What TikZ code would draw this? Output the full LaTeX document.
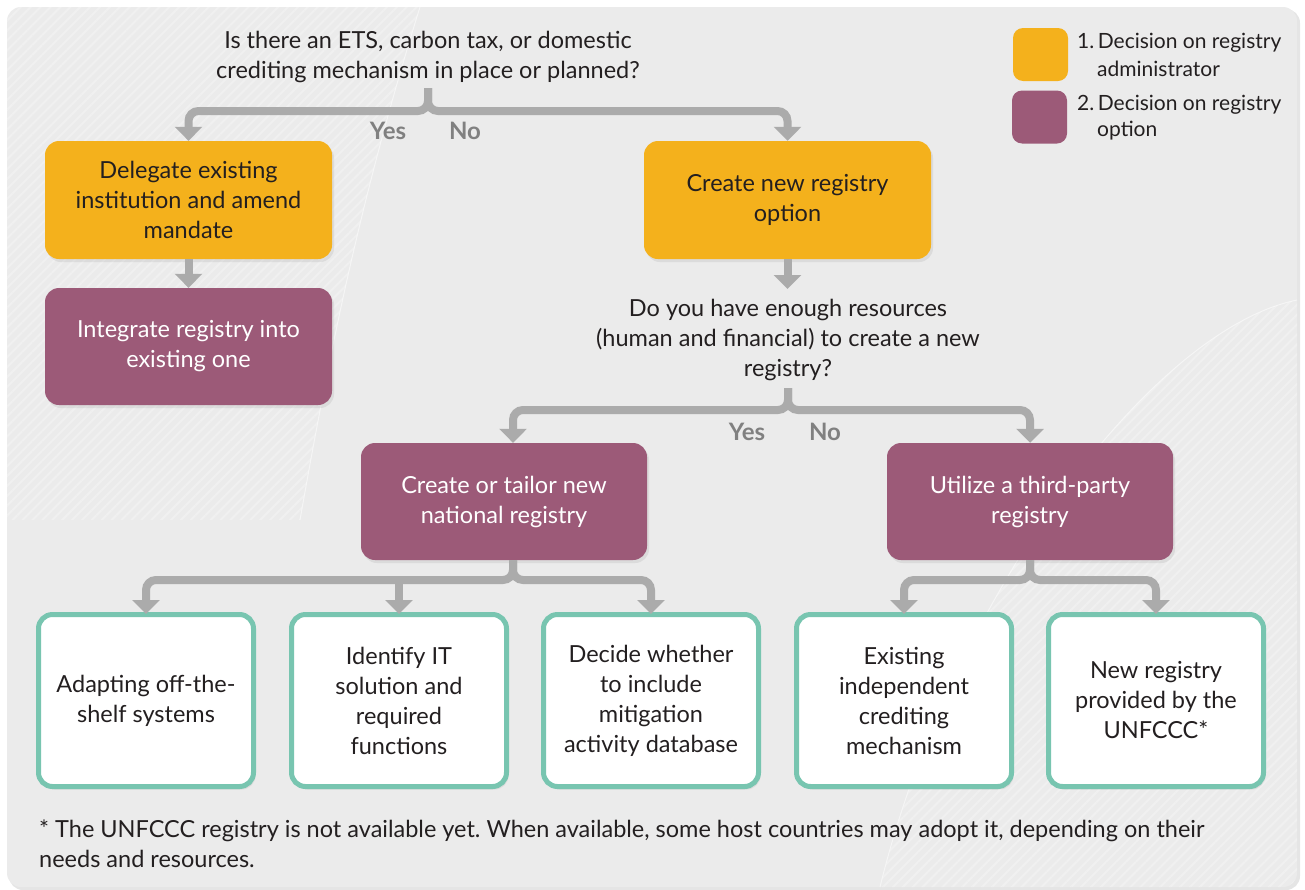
\documentclass[tikz,border=0pt]{standalone}
\usepackage{fontspec}
\setmainfont{Lato}
\usetikzlibrary{arrows.meta,shadows,patterns.meta}
\frenchspacing
\definecolor{bgc}{HTML}{EBEBEB}
\definecolor{orangec}{HTML}{F4B11C}
\definecolor{purplec}{HTML}{9C5A78}
\definecolor{tealc}{HTML}{78C5B0}
\definecolor{connc}{HTML}{ABABAB}
\definecolor{ync}{HTML}{808080}
\definecolor{txt}{HTML}{231F20}
\tikzset{
  box/.style={rounded corners=14pt, minimum width=287pt, minimum height=118pt, align=center,
    font=\fontsize{23.5}{30}\selectfont, inner sep=4pt,
    drop shadow={opacity=0.15, shadow xshift=2pt, shadow yshift=-3pt}},
  obox/.style={box, fill=orangec, text=txt},
  pbox/.style={box, fill=purplec, text=white},
  tbox/.style={box, fill=white, draw=tealc, line width=5pt, text=txt,
    minimum width=215pt, minimum height=172pt},
  conn/.style={draw=connc, line width=8pt, rounded corners=10pt,
    -{Triangle[width=27pt,length=14pt]}},
  qtext/.style={align=center, font=\fontsize{23.5}{30}\selectfont, text=txt, inner sep=3pt},
  yn/.style={font=\fontsize{24}{24}\selectfont\bfseries, text=ync, inner sep=0pt},
  legtext/.style={anchor=west, font=\fontsize{21}{24}\selectfont, text=txt, inner sep=0pt},
  legbox/.style={rounded corners=10pt, minimum width=55pt, minimum height=53pt}
}
\begin{document}
\begin{tikzpicture}[x=1pt,y=-1pt]
\useasboundingbox (0,0) rectangle (1305,889);
% background
\fill[black!10, rounded corners=14pt] (9,9) rectangle (1300,890);
\fill[bgc, rounded corners=14pt] (7,7) rectangle (1297,887);
\begin{scope}
  \clip[rounded corners=14pt] (7,7) rectangle (1297,887);
  \clip (7,7) -- (420,7) .. controls (360,200) and (330,350) .. (300,520) -- (7,520) -- cycle;
  \fill[pattern={Lines[angle=45,distance=7pt,line width=2pt]}, pattern color=white!25!bgc] (0,0) rectangle (1305,889);
\end{scope}
\begin{scope}
  \clip[rounded corners=14pt] (7,7) rectangle (1297,887);
  \clip (1297,300) .. controls (1150,330) and (950,600) .. (880,889) -- (1305,889) -- (1305,300) -- cycle;
  \fill[pattern={Lines[angle=45,distance=7pt,line width=2pt]}, pattern color=white!25!bgc] (0,0) rectangle (1305,889);
\end{scope}
\draw[white, opacity=0.5, line width=1pt] (420,7) .. controls (360,200) and (330,350) .. (300,520);
\draw[white, opacity=0.5, line width=1pt] (1297,300) .. controls (1150,330) and (950,600) .. (880,887);

% legend
\node[legbox, fill=orangec] (lg1) at (1040.5,54.5) {};
\node[legbox, fill=purplec] (lg2) at (1039.5,117) {};
\node[legtext] (lt1a) at (1077,43) {1.\,Decision on registry};
\node[legtext] (lt1b) at (1097,69) {administrator};
\node[legtext] (lt2a) at (1077,105) {2.\,Decision on registry};
\node[legtext] (lt2b) at (1097,131) {option};

% questions
\node[qtext] (q1) at (428,57) {Is there an ETS, carbon tax, or domestic\\crediting mechanism in place or planned?};
\node[qtext] (q2) at (788,340) {Do you have enough resources\\(human and financial) to create a new\\registry?};

% level boxes
\node[obox] (b1) at (188.5,200) {Delegate existing\\institution and amend\\mandate};
\node[pbox, minimum height=117pt] (b2) at (188.5,346.5) {Integrate registry into\\existing one};
\node[obox] (b3) at (787.5,200) {Create new registry\\option};
\node[pbox, minimum width=286pt, minimum height=117pt] (b4) at (504,501.5) {Create or tailor new\\national registry};
\node[pbox, minimum width=286pt, minimum height=117pt] (b5) at (1030,501.5) {Utilize a third-party\\registry};

% bottom boxes
\node[tbox] (c1) at (146,700.5) {Adapting off-the-\\shelf systems};
\node[tbox] (c2) at (399,700.5) {Identify IT\\solution and\\required\\functions};
\node[tbox] (c3) at (651,700.5) {Decide whether\\to include\\mitigation\\activity database};
\node[tbox] (c4) at (904,700.5) {Existing\\independent\\crediting\\mechanism};
\node[tbox] (c5) at (1156,700.5) {New registry\\provided by the\\UNFCCC*};

% junction coordinates
\coordinate (j1) at (428,111);
\coordinate (j2) at (788,410);
\coordinate (j3) at (513,580);
\coordinate (j4) at (1030,580);

% connectors
\draw[conn] (428,88) -- (j1) -| (b1.north);
\draw[conn] (428,88) -- (j1) -| (b3.north);
\draw[conn] (b1.south) -- (b2.north);
\draw[conn] (b3.south) -- (787.5,289);
\draw[conn] (788,388) -- (j2) -| ([xshift=9pt]b4.north);
\draw[conn] (788,388) -- (j2) -| (b5.north);
\draw[conn] ([xshift=9pt]b4.south) -- (j3) -| ([yshift=-2pt]c1.north);
\draw[conn] ([xshift=9pt]b4.south) -- (j3) -| ([yshift=-2pt]c3.north);
\draw[conn] (c2.north |- j3) -- ([yshift=-2pt]c2.north);
\draw[conn] (b5.south) -- (j4) -| ([yshift=-2pt]c4.north);
\draw[conn] (b5.south) -- (j4) -| ([yshift=-2pt]c5.north);

% yes / no labels
\node[yn] (y1) at (388,131) {Yes};
\node[yn] (n1) at (465,131) {No};
\node[yn] (y2) at (747,432) {Yes};
\node[yn] (n2) at (825,432) {No};

% footnote
\node[anchor=north west, align=left, font=\fontsize{23.5}{30}\selectfont, text=txt, inner sep=0pt] (fn) at (39,820)
  {* The UNFCCC registry is not available yet. When available, some host countries may adopt it, depending on their\\needs and resources.};
\end{tikzpicture}
\end{document}
